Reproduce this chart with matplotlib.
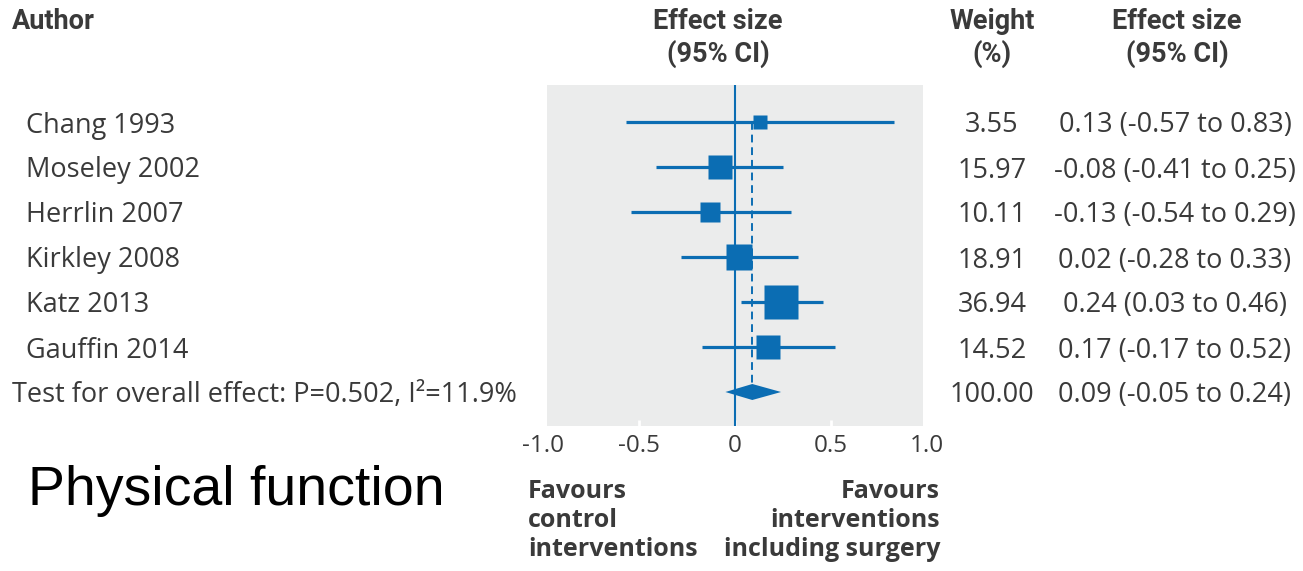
import matplotlib.pyplot as plt
import matplotlib.transforms as mtransforms
from matplotlib.patches import Rectangle, Polygon
import numpy as np

# study data
authors = ['Chang 1993', 'Moseley 2002', 'Herrlin 2007', 'Kirkley 2008',
           'Katz 2013', 'Gauffin 2014']
effect = [0.13, -0.08, -0.13, 0.02, 0.24, 0.17]
ci_low = [-0.57, -0.41, -0.54, -0.28, 0.03, -0.17]
ci_high = [0.83, 0.25, 0.29, 0.33, 0.46, 0.52]
weights = [3.55, 15.97, 10.11, 18.91, 36.94, 14.52]

# pooled estimate
overall_label = 'Test for overall effect: P=0.502, I²=11.9%'
overall_effect = 0.09
overall_low = -0.05
overall_high = 0.24
overall_weight = 100.00

xticks = [-1.0, -0.5, 0, 0.5, 1.0]
xtick_labels = ['-1.0', '-0.5', '0', '0.5', '1.0']

blue = '#0b6db3'
panel = '#ebecec'
txt = '#3a3a3a'
body_font = ['Open Sans', 'DejaVu Sans']
head_font = ['Roboto', 'DejaVu Sans']
body_size = 19.5

W, H = 1303, 571
fig = plt.figure(figsize=(W / 100, H / 100), dpi=100)

def fx(x):
    return x / W

def fy(y):
    return 1 - y / H

# forest plot axes: x from -1 to 1, rows downwards
ax_left, ax_right, ax_top, ax_bot = 543, 927, 85, 426
ax = fig.add_axes([fx(ax_left), fy(ax_bot), fx(ax_right - ax_left), (ax_bot - ax_top) / H])
row_px = 45.0
first_row = 122
ax.set_xlim(-1, 1)
ax.set_ylim((ax_bot - first_row) / row_px, (ax_top - first_row) / row_px)
ax.patch.set_alpha(0)
for s in ax.spines.values():
    s.set_visible(False)

ax.add_patch(Rectangle((-0.979, ax.get_ylim()[1]), 1.958,
                       ax.get_ylim()[0] - ax.get_ylim()[1],
                       facecolor=panel, edgecolor='none', zorder=0))

n = len(authors)
rows = np.arange(n)
overall_row = n

# line of no effect and pooled effect
ax.axvline(0, color=blue, lw=1.5, zorder=3)
ax.plot([overall_effect, overall_effect], [0, overall_row], color=blue, lw=1.4,
        ls=(0, (4, 2.5)), zorder=2)

# confidence intervals and weighted squares
for i in rows:
    ax.plot([ci_low[i], ci_high[i]], [i, i], color=blue, lw=2.3, solid_capstyle='butt', zorder=4)
    side_px = 5 + 4.76 * np.sqrt(weights[i])
    ax.plot(effect[i], i, marker='s', ms=side_px * 0.72, color=blue, mec='none', zorder=5)

# pooled diamond
dh = 8 / row_px
ax.add_patch(Polygon([(overall_low, overall_row), (overall_effect, overall_row - dh),
                      (overall_high, overall_row), (overall_effect, overall_row + dh)],
                     closed=True, facecolor=blue, edgecolor='none', zorder=5))

ax.set_xticks(xticks)
ax.set_xticklabels(xtick_labels, fontsize=17.5, color=txt, family=body_font)
ax.tick_params(axis='x', direction='in', length=4, width=2, color='white', pad=6)
ax.set_yticks([])

# text columns
tr = mtransforms.blended_transform_factory(fig.transFigure, ax.transData)
cell = dict(transform=tr, va='center_baseline', fontsize=body_size, color=txt, family=body_font)
for i in rows:
    ax.text(fx(26), i, authors[i], ha='left', **cell)
    ax.text(fx(992), i, f'{weights[i]:.2f}', ha='center', **cell)
    ax.text(fx(1175), i, f'{effect[i]:.2f} ({ci_low[i]:.2f} to {ci_high[i]:.2f})',
            ha='center', **cell)

ax.text(fx(12), overall_row, overall_label, ha='left', **cell)
ax.text(fx(992), overall_row, f'{overall_weight:.2f}', ha='center', **cell)
ax.text(fx(1175), overall_row,
        f'{overall_effect:.2f} ({overall_low:.2f} to {overall_high:.2f})', ha='center', **cell)

# column headers
head = dict(fontsize=19.5, color=txt, family=head_font, fontweight='bold', va='top',
            linespacing=1.2)
fig.text(fx(12), fy(8), 'Author', ha='left', **head)
fig.text(fx(718), fy(8), 'Effect size\n(95% CI)', ha='center', multialignment='center', **head)
fig.text(fx(992), fy(8), 'Weight\n(%)', ha='center', multialignment='center', **head)
fig.text(fx(1177), fy(8), 'Effect size\n(95% CI)', ha='center', multialignment='center', **head)

# direction labels under the axis
foot = dict(fontsize=18, color=txt, family=body_font, fontweight='bold', va='top',
            linespacing=1.22)
fig.text(fx(528), fy(479), 'Favours\ncontrol\ninterventions', ha='left',
         multialignment='left', **foot)
fig.text(fx(940), fy(479), 'Favours\ninterventions\nincluding surgery', ha='right',
         multialignment='right', **foot)

fig.text(fx(28), fy(491), 'Physical function', ha='left', va='center',
         fontsize=40, color='black', family=['Liberation Sans', 'DejaVu Sans'])

fig.savefig('out.png', dpi=100)
